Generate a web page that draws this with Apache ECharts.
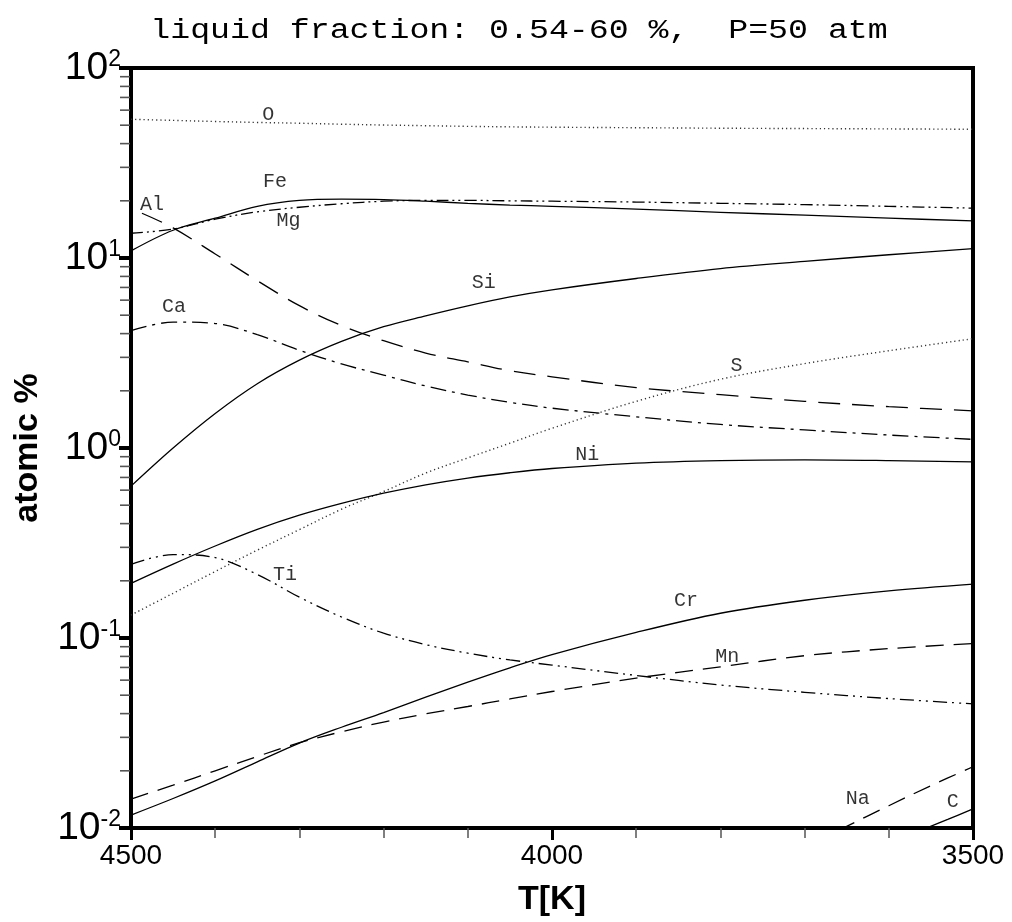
<!DOCTYPE html>
<html><head><meta charset="utf-8">
<script src="https://cdn.jsdelivr.net/npm/echarts@6/dist/echarts.min.js"></script>
<style>html,body{margin:0;padding:0;background:#fff}#c{width:1012px;height:922px}</style>
</head><body><div id="c"></div>
<script>
// Temperatures (K) at which values were read
const temps = [4500,4450,4400,4350,4300,4250,4200,4150,4100,4050,4000,3900,3800,3700,3600,3500];
// atomic % of each element
const O  = [53.7,53.0,52.3,51.7,51.2,50.6,50.1,49.7,49.3,49.0,48.8,48.5,48.2,48.0,47.8,47.6];
const Fe = [10.9,14.0,16.2,18.7,20.1,20.4,20.3,19.9,19.4,19.0,18.7,18.1,17.4,16.8,16.2,15.7];
const Mg = [13.5,14.2,16.0,17.5,18.5,19.3,19.9,20.1,20.1,20.0,19.9,19.7,19.4,19.1,18.7,18.3];
const alTemps = [4487,4450,4400,4350,4300,4250,4200,4150,4100,4050,4000,3900,3800,3700,3600,3500];
const Al = [17.2,14.4,10.5,7.6,5.61,4.41,3.67,3.16,2.84,2.55,2.37,2.08,1.91,1.76,1.65,1.57];
const Ca = [4.15,4.6,4.52,3.95,3.27,2.77,2.42,2.12,1.9,1.74,1.62,1.46,1.33,1.245,1.17,1.11];
const Si = [0.63,1.0,1.52,2.18,2.9,3.64,4.35,4.96,5.6,6.24,6.8,7.8,8.8,9.6,10.4,11.2];
const S  = [0.132,0.172,0.224,0.29,0.372,0.476,0.59,0.738,0.887,1.06,1.27,1.76,2.30,2.78,3.25,3.76];
const Ni = [0.194,0.245,0.305,0.373,0.443,0.511,0.578,0.64,0.695,0.741,0.78,0.833,0.859,0.867,0.859,0.845];
const Ti = [0.244,0.275,0.265,0.216,0.164,0.129,0.106,0.0923,0.0832,0.0767,0.072,0.0635,0.0566,0.0518,0.048,0.045];
const Cr = [0.0117,0.0143,0.0177,0.0223,0.028,0.0339,0.0405,0.0488,0.0586,0.0697,0.0818,0.107,0.135,0.158,0.177,0.192];
const Mn = [0.0142,0.0168,0.02,0.0238,0.0281,0.0321,0.0361,0.0399,0.0436,0.0478,0.0523,0.0615,0.0705,0.0807,0.0879,0.0935];
const naTemps = [3660,3600,3550,3500];
const Na = [0.0097,0.0131,0.0167,0.021];
const cTemps = [3560,3530,3500];
const C  = [0.0098,0.0111,0.0126];

// curve labels
const labelNames = ['O','Fe','Al','Mg','Ca','Si','S','Ni','Ti','Cr','Mn','Na','C'];
const labelT     = [4337,4329,4475,4313,4449,4081,3781,3958,4317,3841,3792,3637,3524];
const labelV     = [57,25.3,19.0,15.8,5.53,7.38,2.70,0.92,0.216,0.158,0.0802,0.0143,0.0137];

// tick values
const xMajor = [4500,4000,3500];
const yMinor = [];
[-2,-1,0,1].forEach(k => { for (let m = 2; m <= 9; m++) yMinor.push(m * Math.pow(10, k)); });

const dot = [1.2, 3];
const styles = {
  O: dot, Fe: 'solid', Mg: [12,4,2,4,2,4], Al: [22,12], Ca: [16,6,3,6],
  Si: 'solid', S: dot, Ni: 'solid', Ti: [14,5,2,5,2,5], Cr: 'solid',
  Mn: [18,10], Na: [18,10], C: 'solid'
};

function line(name, ts, vals) {
  const isDot = Array.isArray(styles[name]) && styles[name][0] < 2;
  return {
    name, type: 'line', data: ts.map((t, i) => [t, vals[i]]),
    showSymbol: false, symbol: 'none', smooth: 0.35, clip: true, silent: true,
    lineStyle: { color: isDot ? '#333' : '#000', width: isDot ? 1.4 : 1.3, type: styles[name] },
    z: 3
  };
}

const series = [
  line('O', temps, O), line('Fe', temps, Fe), line('Mg', temps, Mg), line('Al', alTemps, Al),
  line('Ca', temps, Ca), line('Si', temps, Si), line('S', temps, S), line('Ni', temps, Ni),
  line('Ti', temps, Ti), line('Cr', temps, Cr), line('Mn', temps, Mn),
  line('Na', naTemps, Na), line('C', cTemps, C),
  {
    type: 'scatter', symbolSize: 0, silent: true, z: 5,
    data: labelNames.map((n, i) => [labelT[i], labelV[i], n]),
    label: { show: true, position: 'inside', formatter: p => p.data[2],
      fontFamily: '"Liberation Mono", "Courier New", monospace', fontSize: 20, color: '#000' }
  },
  {
    type: 'custom', clip: false, silent: true, z: 6,
    data: yMinor.map(v => [4500, v]),
    renderItem: (params, api) => {
      const p = api.coord([api.value(0), api.value(1)]);
      return { type: 'line', shape: { x1: p[0] - 11, y1: p[1], x2: p[0] - 1, y2: p[1] },
        style: { stroke: '#555', lineWidth: 1.6 } };
    }
  }
];

const chart = echarts.init(document.getElementById('c'), null, { renderer: 'canvas' });
chart.setOption({
  animation: false,
  backgroundColor: '#fff',
  grid: { left: 131, right: 39, top: 68, bottom: 84, show: true, borderColor: '#000', borderWidth: 4, backgroundColor: 'transparent' },
  graphic: [{
    type: 'text', x: 519, y: 31, scaleX: 1.23, scaleY: 1,
    style: { text: 'liquid fraction: 0.54-60 %,  P=50 atm', fill: '#000',
      font: '27px "Liberation Mono", "Courier New", monospace', textAlign: 'center', textVerticalAlign: 'middle' }
  }],
  xAxis: {
    type: 'value', min: 3500, max: 4500, interval: 500, inverse: true,
    name: 'T[K]', nameLocation: 'middle', nameGap: 55,
    nameTextStyle: { fontFamily: '"Liberation Sans", Arial, sans-serif', fontWeight: 'bold', fontSize: 34, color: '#000' },
    axisLine: { show: true, onZero: false, lineStyle: { color: '#000', width: 4 } },
    axisTick: { show: true, length: 12, lineStyle: { color: '#000', width: 3 } },
    minorTick: { show: true, splitNumber: 5, length: 10, lineStyle: { color: '#555', width: 1.5 } },
    axisLabel: { margin: 14, fontFamily: '"Liberation Sans", Arial, sans-serif', fontSize: 28, color: '#000',
      formatter: v => xMajor.includes(v) ? String(v) : '' },
    splitLine: { show: false }, minorSplitLine: { show: false }
  },
  yAxis: {
    type: 'log', logBase: 10, min: 0.01, max: 100,
    name: 'atomic %', nameLocation: 'middle', nameGap: 86, nameRotate: 90,
    nameTextStyle: { fontFamily: '"Liberation Sans", Arial, sans-serif', fontWeight: 'bold', fontSize: 34, color: '#000' },
    axisLine: { show: true, onZero: false, lineStyle: { color: '#000', width: 4 } },
    axisTick: { show: true, length: 12, lineStyle: { color: '#000', width: 4 } },
    axisLabel: {
      margin: 10, color: '#000',
      formatter: v => '{b|10}{s|' + Math.round(Math.log10(v)) + '}',
      rich: {
        b: { fontFamily: '"Liberation Sans", Arial, sans-serif', fontSize: 39, color: '#000', verticalAlign: 'bottom' },
        s: { fontFamily: '"Liberation Sans", Arial, sans-serif', fontSize: 23, color: '#000', verticalAlign: 'top' }
      }
    },
    splitLine: { show: false }, minorSplitLine: { show: false }
  },
  series
});
</script></body></html>
